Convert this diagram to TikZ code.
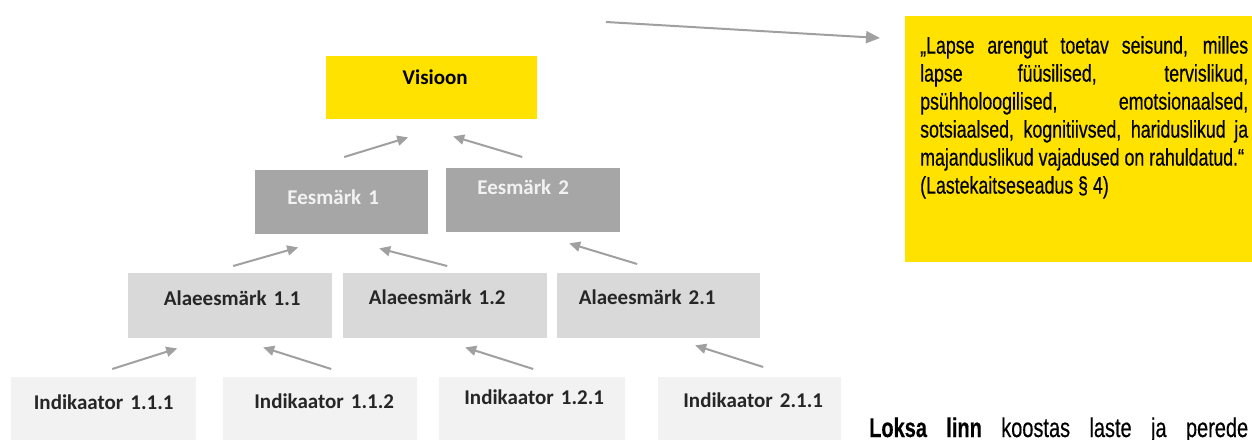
\documentclass[tikz,border=0pt]{standalone}
\usepackage{fontspec}
\newfontfamily\carlito[WordSpace=0.6]{Carlito}
\newfontfamily\narrow[FakeStretch=0.74, FakeBold=0.4]{Liberation Sans}
\usetikzlibrary{arrows.meta}
\definecolor{visioonyellow}{RGB}{255,226,0}
\definecolor{goalgray}{RGB}{166,166,166}
\definecolor{subgray}{RGB}{217,217,217}
\definecolor{indgray}{RGB}{242,242,242}
\definecolor{arrowgray}{RGB}{160,160,160}
\definecolor{labeltext}{RGB}{38,38,38}
\tikzset{
    tier/.style={anchor=north west, inner sep=0pt, align=center, font=\carlito\bfseries\fontsize{21}{24}\selectfont}, % box of one level
    vision/.style={tier, fill=visioonyellow, text=black},
    goal/.style={tier, fill=goalgray, text=indgray},
    subgoal/.style={tier, fill=subgray, text=labeltext},
    indicator/.style={tier, fill=indgray, text=labeltext},
    up/.style={arrowgray, line width=2pt, -{Triangle[length=11pt, width=10pt]}} % grey arrow
}

\begin{document}
\begin{tikzpicture}[x=1pt, y=-1pt]
    \useasboundingbox (0,0) rectangle (1252,439);
    \clip (0,0) rectangle (1252,439);

    % levels
    \node[vision, text width=211pt, text height=28pt, text depth=35pt] (V) at (326,56) {\hspace*{7pt}Visioon};
    \node[goal, text width=173pt, text height=34pt, text depth=30pt] (E1) at (255,170) {\hspace*{-17pt}Eesmärk 1};
    \node[goal, text width=174pt, text height=26pt, text depth=38pt] (E2) at (446,168) {\hspace*{-20pt}Eesmärk 2};
    \node[subgoal, text width=204pt, text height=32pt, text depth=33pt] (A11) at (128,273) {\hspace*{4pt}Alaeesmärk 1.1};
    \node[subgoal, text width=204pt, text height=31pt, text depth=34pt] (A12) at (343,273) {\hspace*{-16pt}Alaeesmärk 1.2};
    \node[subgoal, text width=203pt, text height=31pt, text depth=34pt] (A21) at (557,273) {\hspace*{-23pt}Alaeesmärk 2.1};
    \node[indicator, text width=185pt, text height=32pt, text depth=40pt] (I111) at (11,377) {Indikaator 1.1.1};
    \node[indicator, text width=194pt, text height=31pt, text depth=41pt] (I112) at (223,377) {\hspace*{8pt}Indikaator 1.1.2};
    \node[indicator, text width=186pt, text height=27pt, text depth=45pt] (I121) at (439,377) {\hspace*{4pt}Indikaator 1.2.1};
    \node[indicator, text width=183pt, text height=30pt, text depth=42pt] (I211) at (658,377) {\hspace*{7pt}Indikaator 2.1.1};

    \draw[up] ([xshift=2.5pt,yshift=13pt]E1.north) -- ([xshift=-23.5pt,yshift=-18pt]V.south);
    \draw[up] ([xshift=-11pt,yshift=11pt]E2.north) -- ([xshift=21.5pt,yshift=-17pt]V.south);
    \draw[up] ([xshift=3pt,yshift=7pt]A11.north) -- ([xshift=-43.5pt,yshift=-13pt]E1.south);
    \draw[up] ([xshift=2pt,yshift=7pt]A12.north) -- ([xshift=37.5pt,yshift=-14pt]E1.south);
    \draw[up] ([xshift=-21.5pt,yshift=9pt]A21.north) -- ([xshift=36pt,yshift=-11pt]E2.south);
    \draw[up] ([xshift=8.5pt,yshift=8pt]I111.north) -- ([xshift=-53pt,yshift=-10pt]A11.south);
    \draw[up] ([xshift=11pt,yshift=8pt]I112.north) -- ([xshift=33pt,yshift=-9pt]A11.south);
    \draw[up] ([xshift=1pt,yshift=8pt]I121.north) -- ([xshift=20pt,yshift=-9pt]A12.south);
    \draw[up] ([xshift=13.5pt,yshift=10pt]I211.north) -- ([xshift=36.5pt,yshift=-7pt]A21.south);

    % quote box
    \node[fill=visioonyellow, anchor=north west, inner sep=0pt, minimum width=347pt, minimum height=246pt] (Q) at (905,16) {};
    \node[anchor=north west, inner sep=0pt, align=left, font=\narrow\fontsize{24}{28}\selectfont] (Qtext) at (920,36) {%
        \makebox[328pt][s]{„Lapse arengut toetav seisund, milles}\\
        \makebox[328pt][s]{lapse füüsilised, tervislikud,}\\
        \makebox[328pt][s]{psühholoogilised, emotsionaalsed,}\\
        \makebox[328pt][s]{sotsiaalsed, kognitiivsed, hariduslikud ja}\\
        majanduslikud vajadused on rahuldatud.“\\
        (Lastekaitseseadus § 4)};
    \coordinate (src) at (606,22);
    \draw[up, -{Triangle[length=14pt, width=12pt]}] (src) -- ([xshift=-25pt,yshift=-22pt]Q.north west);

    \node[anchor=base west, inner sep=0pt, font=\narrow\fontsize{27}{30}\selectfont] (loksa) at (869,437) {\makebox[379pt][s]{\textbf{Loksa linn} koostas laste ja perede}};
\end{tikzpicture}
\end{document}
